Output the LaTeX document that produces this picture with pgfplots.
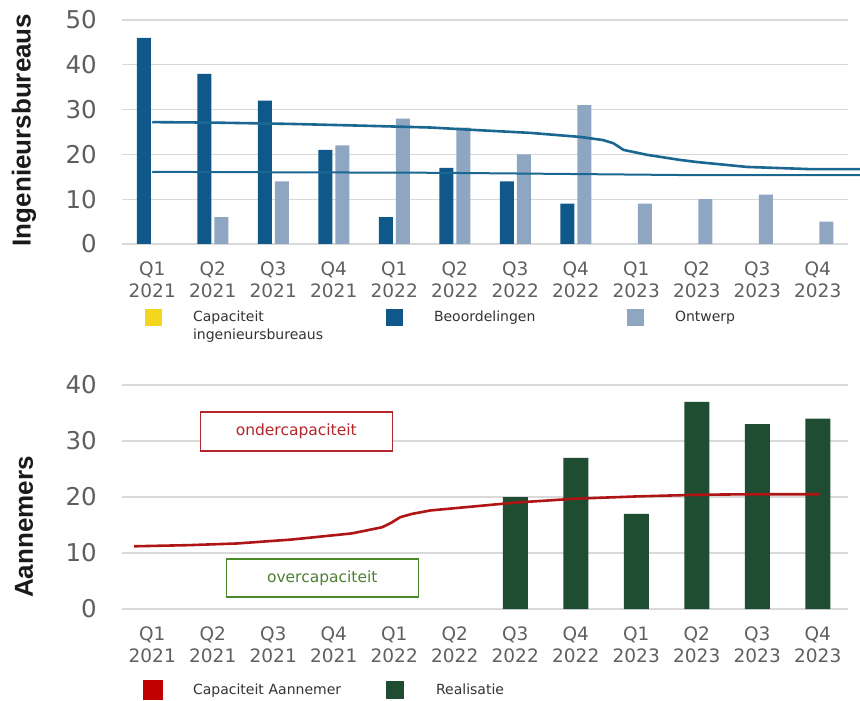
\documentclass[border=0pt]{standalone}
\usepackage{pgfplots}
\pgfplotsset{compat=1.18}
\usepackage{fontspec}
\setmainfont{DejaVu Sans}
\newfontfamily\titlefont{Liberation Sans}
\definecolor{tickgray}{HTML}{5F5F5F}
\definecolor{gridgray}{HTML}{D9D9D9}
\definecolor{beoblue}{HTML}{0F5889}
\definecolor{ontwerp}{HTML}{8EA6C2}
\definecolor{lineblue}{HTML}{1A6792}
\definecolor{capyellow}{HTML}{F5D61E}
\definecolor{realgreen}{HTML}{1F4D32}
\definecolor{linered}{HTML}{B01515}
\definecolor{legred}{HTML}{C00000}
\definecolor{onderred}{HTML}{B3262B}
\definecolor{overgreen}{HTML}{4A8A2A}
\definecolor{overtext}{HTML}{4E8034}
\definecolor{legtext}{HTML}{333333}
\definecolor{titleblack}{HTML}{1A1A1A}
\newcommand{\ytfont}{\fontsize{24.5bp}{28bp}\selectfont}
\newcommand{\xtfont}{\fontsize{18.5bp}{22bp}\selectfont}
\newcommand{\legfont}{\fontsize{14bp}{18bp}\selectfont}
\newcommand{\boxfont}{\fontsize{15.5bp}{17bp}\selectfont}
\newcommand{\ttlfont}{\titlefont\bfseries\fontsize{26bp}{30bp}\selectfont}
\pgfplotsset{
  quarterly/.style={
    scale only axis, width=726bp, height=224bp,
    xmin=-0.5, xmax=11.5, ymin=0,
    axis line style={draw=none},
    major tick length=0pt,
    ymajorgrids,
    grid style={draw=gridgray, line width=1.3bp},
    xtick={0,...,11},
    xticklabels={{Q1\\2021},{Q2\\2021},{Q3\\2021},{Q4\\2021},{Q1\\2022},{Q2\\2022},{Q3\\2022},{Q4\\2022},{Q1\\2023},{Q2\\2023},{Q3\\2023},{Q4\\2023}},
    xticklabel style={align=center, font=\xtfont, text=tickgray, inner sep=0pt, anchor=north, yshift=-18bp},
    yticklabel style={font=\ytfont, text=tickgray, inner sep=0pt, anchor=east, xshift=-25bp},
    /pgf/number format/assume math mode=true,
    clip=false,
    every axis y label/.style={rotate=90, anchor=center, font=\ttlfont, text=titleblack},
    legend cell align=left,
    legend style={draw=none, fill=none, inner sep=0pt, outer sep=0pt, column sep=0pt, row sep=0pt, font=\legfont, text=legtext, nodes={inner sep=0pt, text width=193bp, align=left}},
  }
}
\begin{document}
\begin{tikzpicture}
\path[use as bounding box] (0bp,0bp) rectangle (860bp,701bp);
% ---------------- top: Ingenieursbureaus ----------------
\begin{axis}[quarterly, at={(122bp,457bp)}, anchor=south west,
  ymax=50, ytick={0,10,...,50},
  ylabel={Ingenieursbureaus},
  ylabel style={at={(axis description cs:-0.135,0.509)}},
  legend columns=3,
  legend style={at={(axis description cs:0.0317,-0.326)}, anchor=west}]
\addlegendimage{legend image code/.code={\fill[capyellow, draw=none] (0bp,-8.5bp) rectangle (17bp,8.5bp); \path[draw=none, fill=none] (0bp,0bp)--(48bp,0bp);}}
\addlegendentry{Capaciteit\\ingenieursbureaus}
\addlegendimage{legend image code/.code={\fill[beoblue, draw=none] (0bp,-8.5bp) rectangle (17bp,8.5bp); \path[draw=none, fill=none] (0bp,0bp)--(48bp,0bp);}}
\addlegendentry{Beoordelingen}
\addlegendimage{legend image code/.code={\fill[ontwerp, draw=none] (0bp,-8.5bp) rectangle (17bp,8.5bp); \path[draw=none, fill=none] (0bp,0bp)--(48bp,0bp);}}
\addlegendentry{Ontwerp}
\addplot[ybar, bar width=14bp, bar shift=-8.5bp, fill=beoblue, draw=none, forget plot]
  coordinates {(0,46) (1,38) (2,32) (3,21) (4,6) (5,17) (6,14) (7,9)};
\addplot[ybar, bar width=14bp, bar shift=8.5bp, fill=ontwerp, draw=none, forget plot]
  coordinates {(1,6) (2,14) (3,22) (4,28) (5,26) (6,20) (7,31) (8,9) (9,10) (10,11) (11,5)};
\addplot[lineblue, line width=2.6bp, no markers, forget plot] coordinates {
  (0,27.2) (1,27.1) (2.3,26.8) (3.5,26.4) (4.6,26.0) (5.4,25.4) (6.25,24.8)
  (7.07,23.9) (7.45,23.2) (7.62,22.5) (7.79,21.0) (8.18,19.9) (8.73,18.75)
  (9.0,18.3) (9.83,17.2) (10.9,16.7) (11.7,16.7)};
\addplot[lineblue, line width=2bp, no markers, forget plot] coordinates {
  (0,16.1) (4.6,15.9) (5.5,15.8) (8.7,15.4) (11.7,15.4)};
\end{axis}
% ---------------- bottom: Aannemers ----------------
\begin{axis}[quarterly, at={(122bp,92bp)}, anchor=south west,
  ymax=40, ytick={0,10,...,40},
  ylabel={Aannemers},
  ylabel style={at={(axis description cs:-0.135,0.366)}},
  legend columns=2,
  legend style={at={(axis description cs:0.029,-0.3616)}, anchor=west}]
\addlegendimage{legend image code/.code={\fill[legred, draw=none] (0bp,-10bp) rectangle (20bp,10bp); \path[draw=none, fill=none] (0bp,0bp)--(50bp,0bp);}}
\addlegendentry{Capaciteit Aannemer}
\addlegendimage{legend image code/.code={\fill[realgreen, draw=none] (0bp,-9bp) rectangle (18bp,9bp); \path[draw=none, fill=none] (0bp,0bp)--(50bp,0bp);}}
\addlegendentry{Realisatie}
\node[draw=onderred, fill=white, line width=1.4bp, minimum width=192bp, minimum height=39bp, inner sep=0pt, text=onderred, font=\boxfont] at (axis cs:2.38,31.7) {ondercapaciteit};
\node[draw=overgreen, fill=white, line width=1.4bp, minimum width=192bp, minimum height=38bp, inner sep=0pt, text=overtext, font=\boxfont] at (axis cs:2.81,5.54) {overcapaciteit};
\addplot[ybar, bar width=25bp, bar shift=0pt, fill=realgreen, draw=none, forget plot]
  coordinates {(6,20) (7,27) (8,17) (9,37) (10,33) (11,34)};
\addplot[linered, line width=2.6bp, no markers, forget plot] coordinates {
  (-0.3,11.2) (0.6,11.4) (1.4,11.7) (2.3,12.4) (3.3,13.5) (3.8,14.6) (3.95,15.4)
  (4.1,16.4) (4.3,17.0) (4.6,17.6) (6.0,19.0) (7.0,19.7) (8.0,20.1) (9.0,20.4)
  (10.0,20.5) (11.04,20.5)};
\end{axis}
\end{tikzpicture}
\end{document}
